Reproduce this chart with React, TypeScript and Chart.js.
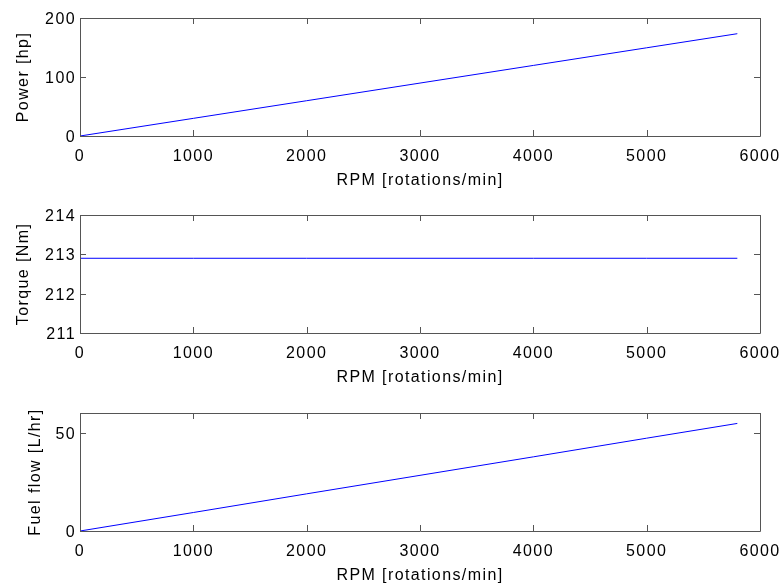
import React, { useEffect, useRef } from "react";
import { Chart, registerables } from "chart.js";

Chart.register(...registerables);

// ---- data ----
const rpm = [0, 1000, 2000, 3000, 4000, 5000, 5800];
const powerHp = [0, 29.9, 59.8, 89.7, 119.6, 149.5, 173.4];
const torqueNm = [212.9, 212.9, 212.9, 212.9, 212.9, 212.9, 212.9];
const fuelFlow = [0, 9.4, 18.9, 28.3, 37.7, 47.2, 54.7];

// ---- ticks ----
const rpmTicks = [0, 1000, 2000, 3000, 4000, 5000, 6000];
const powerTicks = [0, 100, 200];
const torqueTicks = [211, 212, 213, 214];
const fuelTicks = [0, 50];

const xTitle = "RPM [rotations/min]";

const FONT_FAMILY = "'Liberation Sans', Arial, Helvetica, sans-serif";
const FONT = { family: FONT_FAMILY, size: 16 };
const AXIS_COLOR = "#555555";
const LETTER_SPACING = "1.4px";
const RIGHT_GAP = 24;

type Panel = {
  yLabel: string;
  values: number[];
  yMin: number;
  yMax: number;
  yTicks: number[];
  canvasTop: number;
  canvasHeight: number;
  areaTop: number;
  areaBottom: number;
  yTitlePad: number;
};

const panels: Panel[] = [
  { yLabel: "Power [hp]", values: powerHp, yMin: 0, yMax: 200, yTicks: powerTicks, canvasTop: 0, canvasHeight: 196, areaTop: 18, areaBottom: 136, yTitlePad: 14 },
  { yLabel: "Torque [Nm]", values: torqueNm, yMin: 211, yMax: 214, yTicks: torqueTicks, canvasTop: 196, canvasHeight: 196, areaTop: 19, areaBottom: 137, yTitlePad: 14 },
  { yLabel: "Fuel flow [L/hr]", values: fuelFlow, yMin: 0, yMax: 60, yTicks: fuelTicks, canvasTop: 392, canvasHeight: 194, areaTop: 21, areaBottom: 139, yTitlePad: 26 },
];

const spacingPlugin = {
  id: "letterSpacing",
  beforeUpdate(chart: any) {
    chart.ctx.letterSpacing = LETTER_SPACING;
  },
  beforeDraw(chart: any) {
    chart.ctx.letterSpacing = LETTER_SPACING;
  },
};

const boxPlugin = {
  id: "matlabBox",
  afterDatasetsDraw(chart: any, _args: any, opts: any) {
    const { ctx, chartArea } = chart;
    const { left, right, top, bottom } = chartArea;
    const xs = chart.scales.x;
    const ys = chart.scales.y;
    const len = 6;
    ctx.save();
    ctx.strokeStyle = AXIS_COLOR;
    ctx.lineWidth = 1;
    ctx.beginPath();
    ctx.rect(Math.round(left) + 0.5, Math.round(top) + 0.5, Math.round(right - left), Math.round(bottom - top));
    ctx.stroke();
    ctx.beginPath();
    for (const v of opts.xTicks as number[]) {
      const px = Math.round(xs.getPixelForValue(v)) + 0.5;
      ctx.moveTo(px, bottom);
      ctx.lineTo(px, bottom - len);
      ctx.moveTo(px, top);
      ctx.lineTo(px, top + len);
    }
    for (const v of opts.yTicks as number[]) {
      const py = Math.round(ys.getPixelForValue(v)) + 0.5;
      ctx.moveTo(left, py);
      ctx.lineTo(left + len, py);
      ctx.moveTo(right, py);
      ctx.lineTo(right - len, py);
    }
    ctx.stroke();
    ctx.restore();
  },
};

function PanelChart({ panel }: { panel: Panel }) {
  const ref = useRef<HTMLCanvasElement | null>(null);
  useEffect(() => {
    if (!ref.current) return;
    const xHeight = panel.canvasHeight - panel.areaBottom;
    const xTitlePad = Math.max(0, xHeight - 54.6);
    const chart = new Chart(ref.current, {
      type: "line",
      data: {
        datasets: [
          {
            data: rpm.map((r, i) => ({ x: r, y: panel.values[i] })),
            borderColor: "#0000ff",
            borderWidth: 1,
            pointRadius: 0,
            tension: 0,
            fill: false,
          },
        ],
      },
      plugins: [spacingPlugin, boxPlugin],
      options: {
        animation: false,
        responsive: false,
        devicePixelRatio: 1,
        events: [],
        layout: { padding: { top: panel.areaTop, right: 0, left: 0, bottom: 0 } },
        plugins: {
          legend: { display: false },
          tooltip: { enabled: false },
          matlabBox: { xTicks: rpmTicks, yTicks: panel.yTicks },
        } as any,
        scales: {
          x: {
            type: "linear",
            min: 0,
            max: 6000,
            afterBuildTicks: (s: any) => {
              s.ticks = rpmTicks.map((v) => ({ value: v }));
            },
            afterFit: (s: any) => {
              s.height = xHeight;
              s.paddingRight = RIGHT_GAP;
              s.paddingLeft = 0;
            },
            grid: { display: false, drawTicks: false },
            border: { display: false },
            ticks: {
              padding: 11,
              color: "#000",
              font: FONT,
              maxRotation: 0,
              autoSkip: false,
              callback: (v: any) => String(v),
            },
            title: { display: true, text: xTitle, color: "#000", font: FONT, padding: { top: 0, bottom: xTitlePad } },
          },
          y: {
            type: "linear",
            min: panel.yMin,
            max: panel.yMax,
            afterBuildTicks: (s: any) => {
              s.ticks = panel.yTicks.map((v) => ({ value: v }));
            },
            afterFit: (s: any) => {
              s.width = 80;
            },
            grid: { display: false, drawTicks: false },
            border: { display: false },
            ticks: {
              padding: 4,
              color: "#000",
              font: FONT,
              autoSkip: false,
              labelOffset: 1.5,
              callback: (v: any) => String(v),
            },
            title: { display: true, text: panel.yLabel, color: "#000", font: FONT, padding: { top: panel.yTitlePad, bottom: 0 } },
          },
        },
      } as any,
    });
    return () => chart.destroy();
  }, [panel]);
  return (
    <div style={{ position: "absolute", left: 0, top: panel.canvasTop, width: 784, height: panel.canvasHeight }}>
      <canvas ref={ref} width={784} height={panel.canvasHeight} style={{ display: "block", width: 784, height: panel.canvasHeight }} />
    </div>
  );
}

export default function App() {
  return (
    <div style={{ position: "absolute", left: 0, top: 0, width: 784, height: 586, background: "#fff", overflow: "hidden" }}>
      {panels.map((p) => (
        <PanelChart key={p.yLabel} panel={p} />
      ))}
    </div>
  );
}
